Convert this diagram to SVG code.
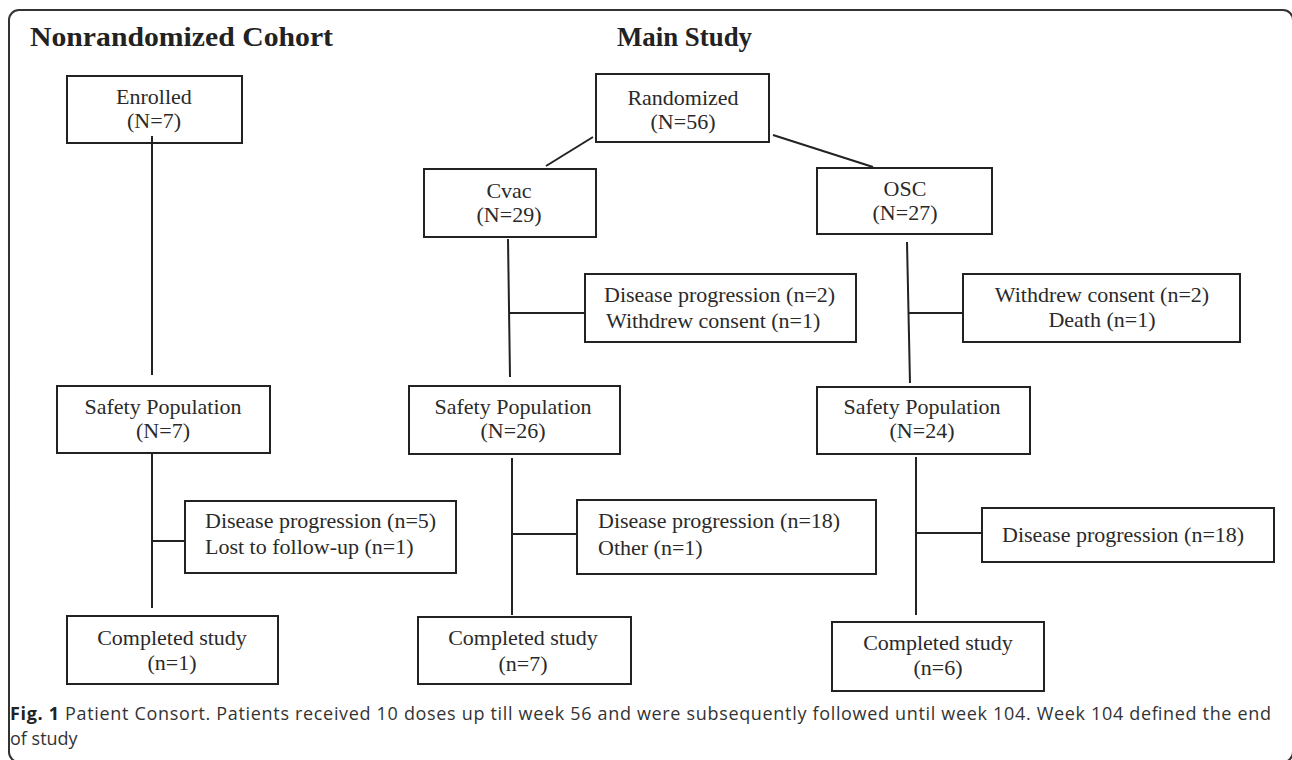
<svg xmlns="http://www.w3.org/2000/svg" width="1292" height="760" viewBox="0 0 1292 760">
<style>
.box{fill:none;stroke:#222;stroke-width:2}
.ln{stroke:#222;stroke-width:2;fill:none}
.t{font-family:"Liberation Serif","Times New Roman",serif;font-size:22px;fill:#2a2a2a}
.c{text-anchor:middle}
.h{font-family:"Liberation Serif","Times New Roman",serif;font-size:27px;font-weight:bold;fill:#222}
.cap{font-family:"Open Sans","Noto Sans",sans-serif;font-size:18px;fill:#333}
</style>
<rect x="0" y="0" width="1292" height="760" fill="#fff"/>
<rect id="frame" x="9" y="10" width="1284" height="752" rx="10" fill="none" stroke="#333" stroke-width="2"/>
<text class="h" x="30" y="46" textLength="303" lengthAdjust="spacingAndGlyphs">Nonrandomized Cohort</text>
<text class="h" x="617" y="46" textLength="135" lengthAdjust="spacingAndGlyphs">Main Study</text>
<g id="connectors">
<line class="ln" x1="152" y1="136" x2="152" y2="375"/>
<line class="ln" x1="152" y1="453" x2="152" y2="608"/>
<line class="ln" x1="152" y1="541" x2="185" y2="541"/>
<line class="ln" x1="593" y1="137" x2="546" y2="166"/>
<line class="ln" x1="773" y1="135" x2="873" y2="167"/>
<line class="ln" x1="508" y1="239" x2="510" y2="377"/>
<line class="ln" x1="510" y1="313" x2="585" y2="313"/>
<line class="ln" x1="907" y1="242" x2="910" y2="383"/>
<line class="ln" x1="909" y1="313" x2="963" y2="313"/>
<line class="ln" x1="512" y1="458" x2="512" y2="615"/>
<line class="ln" x1="512" y1="534" x2="577" y2="534"/>
<line class="ln" x1="916" y1="457" x2="916" y2="615"/>
<line class="ln" x1="916" y1="533" x2="982" y2="533"/>
</g>
<g id="enrolled"><rect class="box" x="67" y="76" width="175" height="67"/><text class="t c" x="154" y="104">Enrolled</text><text class="t c" x="154" y="128">(N=7)</text></g>
<g id="randomized"><rect class="box" x="596" y="74" width="173" height="68"/><text class="t c" x="683" y="105">Randomized</text><text class="t c" x="683" y="129">(N=56)</text></g>
<g id="cvac"><rect class="box" x="424" y="169" width="172" height="68"/><text class="t c" x="509" y="198">Cvac</text><text class="t c" x="509" y="222">(N=29)</text></g>
<g id="osc"><rect class="box" x="817" y="168" width="175" height="66"/><text class="t c" x="905" y="196">OSC</text><text class="t c" x="905" y="220">(N=27)</text></g>
<g id="cvac-exit"><rect class="box" x="585" y="274" width="271" height="68"/><text class="t" x="604" y="302">Disease progression (n=2)</text><text class="t" x="606" y="328">Withdrew consent (n=1)</text></g>
<g id="osc-exit"><rect class="box" x="963" y="274" width="277" height="68"/><text class="t c" x="1102" y="302">Withdrew consent (n=2)</text><text class="t c" x="1102" y="327">Death (n=1)</text></g>
<g id="safety7"><rect class="box" x="57" y="386" width="213" height="67"/><text class="t c" x="163" y="414">Safety Population</text><text class="t c" x="163" y="438">(N=7)</text></g>
<g id="safety26"><rect class="box" x="409" y="386" width="211" height="68"/><text class="t c" x="513" y="414">Safety Population</text><text class="t c" x="513" y="438">(N=26)</text></g>
<g id="safety24"><rect class="box" x="817" y="387" width="213" height="67"/><text class="t c" x="922" y="414">Safety Population</text><text class="t c" x="922" y="438">(N=24)</text></g>
<g id="exit7"><rect class="box" x="185" y="501" width="271" height="72"/><text class="t" x="205" y="528">Disease progression (n=5)</text><text class="t" x="205" y="554">Lost to follow-up (n=1)</text></g>
<g id="exit26"><rect class="box" x="577" y="500" width="299" height="74"/><text class="t" x="598" y="528">Disease progression (n=18)</text><text class="t" x="598" y="555">Other (n=1)</text></g>
<g id="exit24"><rect class="box" x="982" y="508" width="292" height="54"/><text class="t" x="1002" y="542">Disease progression (n=18)</text></g>
<g id="completed1"><rect class="box" x="67" y="616" width="211" height="68"/><text class="t c" x="172" y="645">Completed study</text><text class="t c" x="172" y="670">(n=1)</text></g>
<g id="completed7"><rect class="box" x="418" y="617" width="213" height="67"/><text class="t c" x="523" y="645">Completed study</text><text class="t c" x="523" y="671">(n=7)</text></g>
<g id="completed6"><rect class="box" x="832" y="622" width="212" height="69"/><text class="t c" x="938" y="650">Completed study</text><text class="t c" x="938" y="675">(n=6)</text></g>
<g id="caption">
<text class="cap" x="10" y="720" textLength="1261" lengthAdjust="spacing"><tspan font-weight="bold" fill="#222">Fig. 1</tspan> Patient Consort. Patients received 10 doses up till week 56 and were subsequently followed until week 104. Week 104 defined the end</text>
<text class="cap" x="10" y="745">of study</text>
</g>
</svg>
